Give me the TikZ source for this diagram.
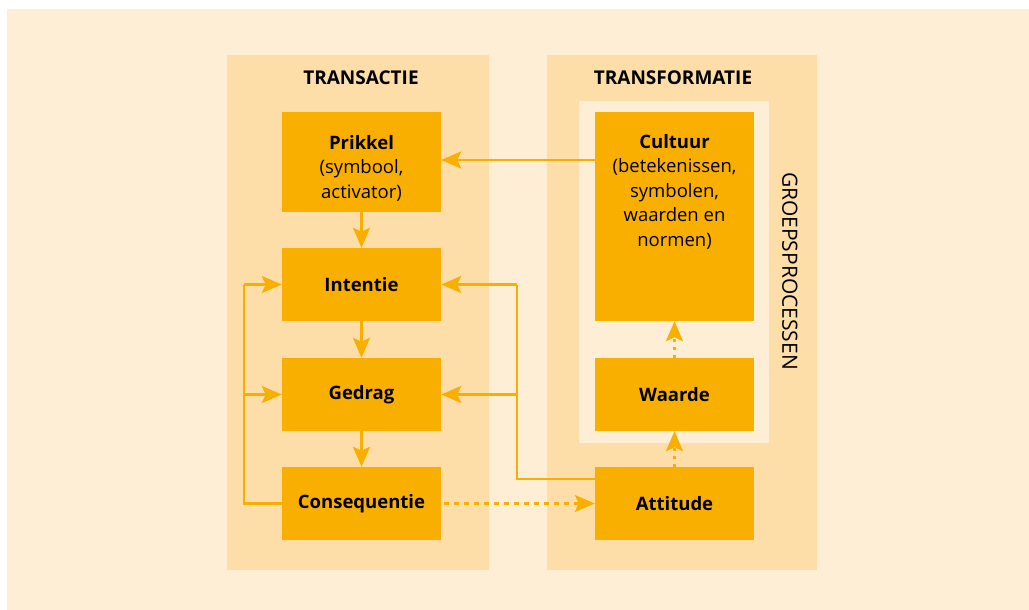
\documentclass[tikz,border=0pt]{standalone}
\usepackage{fontspec}
\setmainfont{Open Sans}
\usetikzlibrary{arrows.meta,positioning}
\definecolor{bgcream}{HTML}{FFEED6}
\definecolor{panelfill}{HTML}{FDDEA9}
\definecolor{boxfill}{HTML}{F9AF00}
\tikzset{
  stagebox/.style={fill=boxfill, draw=none, minimum width=159pt, inner sep=0pt,
    align=center, font=\fontsize{18.5}{24.5}\selectfont},
  boxtext/.style={align=center, anchor=north, inner sep=0pt,
    font=\fontsize{18.5}{24.5}\selectfont},
  flow/.style={draw=boxfill, line width=2.6pt,
    -{Stealth[length=20pt,width=17pt,inset=4pt]}},
  link/.style={draw=boxfill, line width=2.6pt},
  dashflow/.style={flow, dash pattern=on 5pt off 5pt},
  dotflow/.style={flow, dash pattern=on 3pt off 5pt},
  heading/.style={font=\fontsize{19}{20}\selectfont\bfseries},
}
\begin{document}
\begin{tikzpicture}[x=1pt,y=-1pt]
\useasboundingbox (0,0) rectangle (1029,610);
% backgrounds
\fill[bgcream] (7,9) rectangle (1029,610);
\fill[panelfill] (227,55) rectangle (489,570);
\fill[panelfill] (547,55) rectangle (817,570);
\fill[bgcream] (579,101) rectangle (769,443);
% headings
\node[heading] (hTrans) at (361,78) {TRANSACTIE};
\node[heading] (hTrafo) at (673,78) {TRANSFORMATIE};
\node[rotate=-90, font=\fontsize{21}{22}\selectfont] (groep) at (790,271) {GROEPSPROCESSEN};
% transaction column
\node[stagebox, minimum height=100pt] (prikkel) at (361.5,162) {};
\node[boxtext] (prikkeltxt) at (361.5,135)
  {\textbf{Prikkel}\\(symbool,\\activator)};
\node[stagebox, minimum height=73pt] (intentie) at (361.5,284.5) {\textbf{Intentie}};
\node[stagebox, minimum height=73pt] (gedrag) at (361.5,394.5) {\textbf{Gedrag}};
\node[stagebox, minimum height=73pt] (conseq) at (361.5,503.5) {\textbf{Consequentie}};
% transformation column
\node[stagebox, minimum height=209pt] (cultuur) at (674.5,216.5) {};
\node[boxtext] (cultuurtxt) at (674.5,134)
  {\textbf{Cultuur}\\(betekenissen,\\symbolen,\\waarden en\\normen)};
\node[stagebox, minimum height=73pt] (waarde) at (674.5,394.5) {\textbf{Waarde}};
\node[stagebox, minimum height=73pt] (attitude) at (674.5,503.5) {\textbf{Attitude}};
% connectors
\draw[flow] (cultuur.west |- 0,160) -- (prikkel.east |- 0,160);
\draw[flow] (prikkel) -- (intentie);
\draw[flow] (intentie) -- (gedrag);
\draw[flow] (gedrag) -- (conseq);
\coordinate (lcorner) at (244,503.5);
\coordinate (lbranch) at (244,394.5);
\coordinate (ltop) at (244,284.5);
\draw[link] (conseq.west) -- (lcorner) -- (ltop);
\draw[flow] (ltop) -- (intentie.west);
\draw[flow] (lbranch) -- (gedrag.west);
\coordinate (rstart) at (attitude.west |- 0,479);
\coordinate (rcorner) at (517,479);
\coordinate (rbranch) at (517,394.5);
\coordinate (rtop) at (517,284.5);
\draw[link] (rstart) -- (rcorner) -- (rtop);
\draw[flow] (rtop) -- (intentie.east);
\draw[flow] (rbranch) -- (gedrag.east);
\draw[dashflow] (conseq.east) ++(3,0) -- (attitude.west);
\draw[dotflow] (attitude.north) -- (waarde.south);
\draw[dotflow] (waarde.north) -- (cultuur.south);
\end{tikzpicture}
\end{document}
